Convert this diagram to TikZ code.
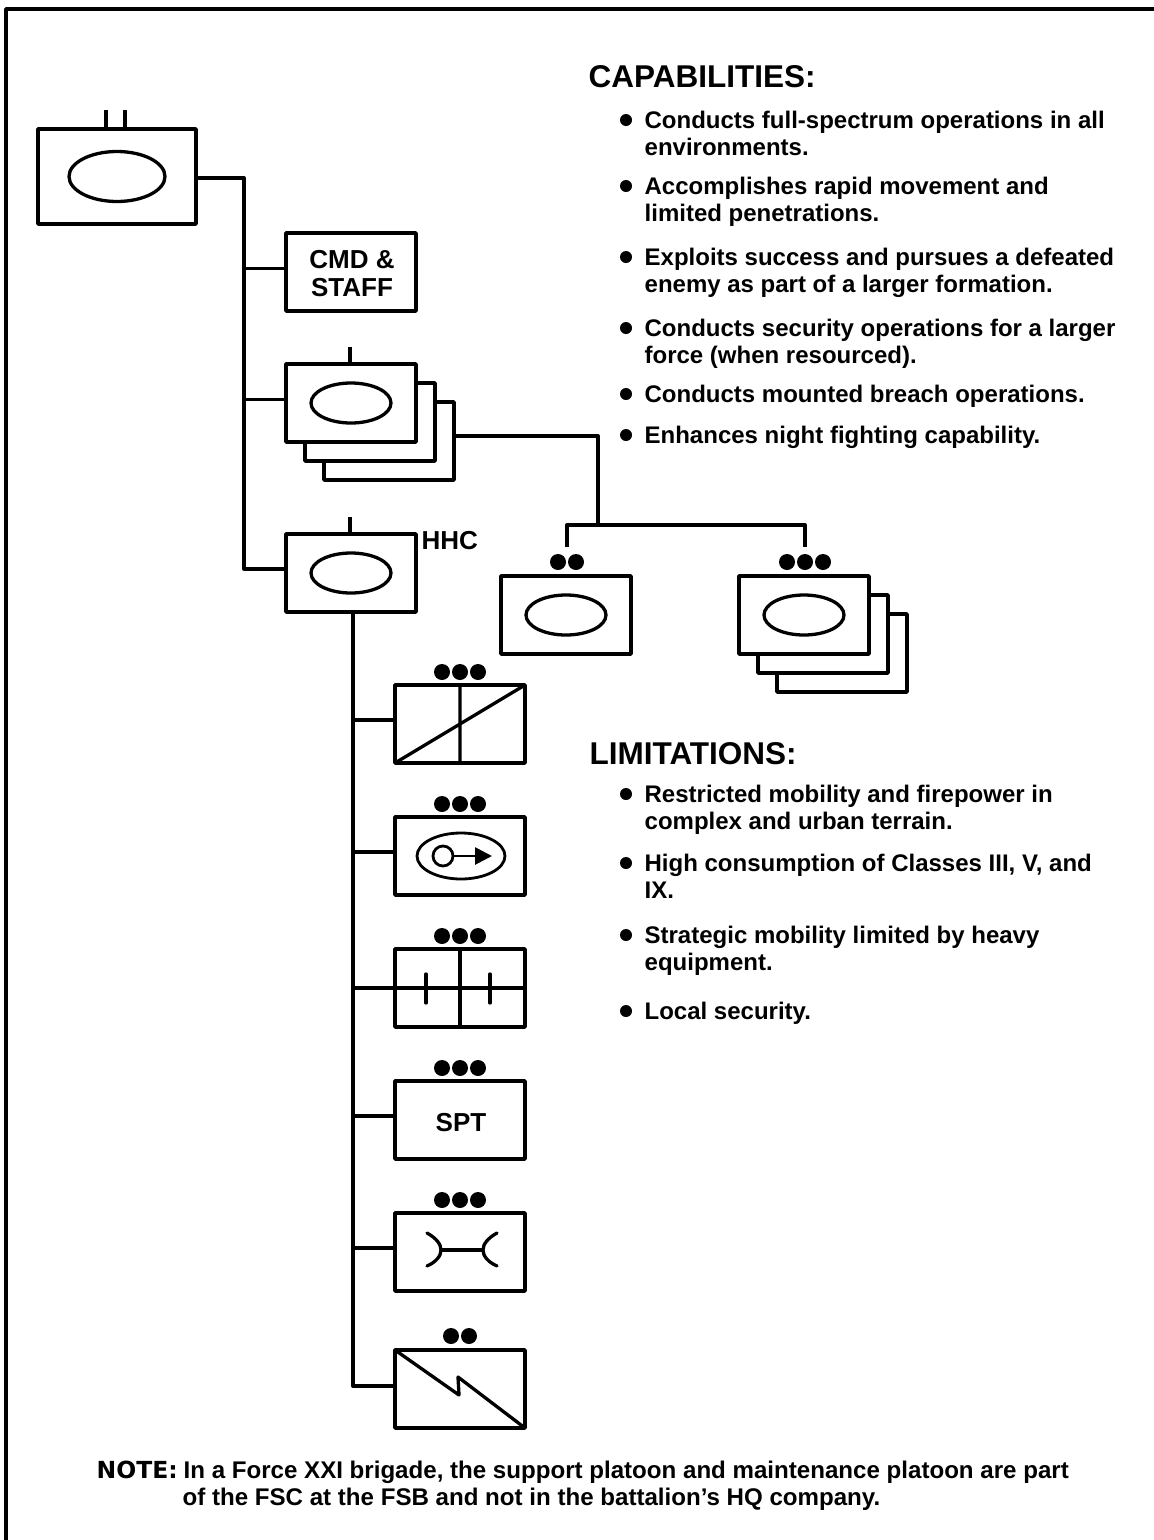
\documentclass[tikz,border=0pt]{standalone}
\usepackage{fontspec}
\setmainfont{Liberation Sans}
\newfontfamily\notefont{DejaVu Sans}
\usetikzlibrary{arrows.meta}
\tikzset{
	unitbox/.style={draw,fill=white,rectangle,outer sep=0pt,minimum width=130pt,minimum height=78pt,line width=3.6pt},
	bodytext/.style={anchor=north west,inner sep=0pt,align=left,font=\fontsize{24}{27}\selectfont\bfseries},
	headtext/.style={anchor=west,inner sep=0pt,font=\fontsize{31.5}{31.5}\selectfont\bfseries},
	notetext/.style={anchor=base west,inner sep=0pt,font=\fontsize{24.1}{27}\selectfont\bfseries},
	labeltext/.style={inner sep=0pt,align=center,font=\fontsize{26}{28}\selectfont\bfseries}
}
\begin{document}
\begin{tikzpicture}[x=1pt,y=-1pt,line width=3.3pt,line join=round]
	\useasboundingbox (0,0) rectangle (1154,1540);
	\draw[line width=3.5pt] (6,1540)--(6,9)--(1154,9);
	% left column
	\node[unitbox,minimum width=158pt,minimum height=95pt] (hq) at (117,176.5) {};
	\node[unitbox] (cmd) at (351,272) {};
	\node[labeltext] (cmdtxt) at (352,274) {CMD \&\\STAFF};
	\node[unitbox] (coc) at (389,441) {};
	\node[unitbox] (cob) at (370,422) {};
	\node[unitbox] (coa) at (351,403) {};
	\node[unitbox] (hhc) at (351,573) {};
	\node[labeltext,anchor=west] (hhctxt) at (420,541) {HHC};
	% companies
	\node[unitbox] (tm) at (566,615) {};
	\node[unitbox] (plc) at (842,653) {};
	\node[unitbox] (plb) at (823,634) {};
	\node[unitbox] (pla) at (804,615) {};
	% platoons
	\node[unitbox] (scout) at (460,724) {};
	\node[unitbox] (mortar) at (460,856) {};
	\node[unitbox] (medic) at (460,988) {};
	\node[unitbox] (spt) at (460,1120) {};
	\node[labeltext] (spttxt) at (461,1123) {SPT};
	\node[unitbox] (maint) at (460,1252) {};
	\node[unitbox] (signal) at (460,1389) {};
	% connectors
	\path (244,569)coordinate(T1) (353,1386)coordinate(T2) (598,525)coordinate(T3);
	\draw ([yshift=-1.5pt]hq.east)-|(T1)--([yshift=4pt]hhc.west);
	\foreach \x in {cmd,coa} \draw ([yshift=3.5pt]\x.west)--++(-42,0);
	\draw (hhc.south -| T2)--(T2)--([yshift=3pt]signal.west);
	\foreach \x in {scout,mortar,spt,maint} \draw ([yshift=4pt]\x.west)--++(-42,0);
	\draw (medic.east)--(medic.east -| T2);
	\draw (coc.west -| coc.east)++(0,-5)--(598,436)--(T3);
	\draw (567,547)--(567,525)--(805,525)--(805,547);
	% ticks and dots
	\foreach \x in {106,125} \draw (\x,129)--(\x,110);
	\foreach \x in {coa,hhc} \draw (\x.north)++(-1,0)--++(0,-17);
	\foreach \x in {scout,mortar,medic,spt,maint} \foreach \d in {-18,0,18} \fill[black](\x.north)+(\d,-13) circle(8);
	\foreach \d in {-17,1,19} \fill[black](pla.north)+(\d,-14) circle(8);
	\foreach \d in {-9,9} \fill[black](signal.north)+(\d,-14) circle(8);
	\foreach \d in {-8,10} \fill[black](tm.north)+(\d,-14) circle(8);
	% ellipses
	\draw (hq.center) ellipse (48 and 25);
	\foreach \x in {coa,hhc,tm,pla} \draw (\x.center) ellipse (40 and 20);
	% symbols
	\draw (scout.north)--(scout.south) (scout.south west)--(scout.north east);
	\draw[line width=2.8pt] (461,856) ellipse (44 and 23);
	\node[draw,circle,line width=2.8pt,minimum size=20pt,inner sep=0pt,outer sep=0pt] (mcirc) at (443,856) {};
	\coordinate (mtip) at (492,856);
	\draw[line width=2.8pt,-{Triangle[length=17pt,width=17pt]}] (mcirc.east)--(mtip);
	\draw (medic.north)--(medic.south);
	\foreach \x in {426,490} \draw[line cap=round] (\x,974)--(\x,1003);
	\draw[line cap=round] (427,1233) .. controls (436,1238) and (441,1244) .. (441,1250) .. controls (441,1256) and (436,1262) .. (427,1266);
	\draw[line cap=round] (497,1233) .. controls (488,1238) and (483,1244) .. (483,1250) .. controls (483,1256) and (488,1262) .. (497,1266);
	\draw (441,1250)--(483,1250);
	\draw (signal.north west)--(459,1395)--(458,1377)--(signal.south east);
	% text
	\node[headtext] (caphead) at (587,77) {CAPABILITIES:};
	\foreach \y/\t in {120/{Conducts full-spectrum operations in all\\environments.},
		186/{Accomplishes rapid movement and\\limited penetrations.},
		257/{Exploits success and pursues a defeated\\enemy as part of a larger formation.},
		328/{Conducts security operations for a larger\\force (when resourced).},
		394/{Conducts mounted breach operations.},
		435/{Enhances night fighting capability.},
		794/{Restricted mobility and firepower in\\complex and urban terrain.},
		863/{High consumption of Classes III, V, and\\IX.},
		935/{Strategic mobility limited by heavy\\equipment.},
		1011/{Local security.}}
	{
		\fill[black](626,\y) circle(6);
		\node[bodytext] (item\y) at (643,\y-11) {\t};
	}
	\node[headtext] (limhead) at (588,754) {LIMITATIONS:};
	\node[notetext,font=\fontsize{23.5}{27}\selectfont\notefont\bfseries] (notehead) at (95,1478) {NOTE:};
	\node[notetext] (noteone) at (182,1478) {In a Force XXI brigade, the support platoon and maintenance platoon are part};
	\node[notetext] (notetwo) at (181,1505) {of the FSC at the FSB and not in the battalion's HQ company.};
\end{tikzpicture}
\end{document}
